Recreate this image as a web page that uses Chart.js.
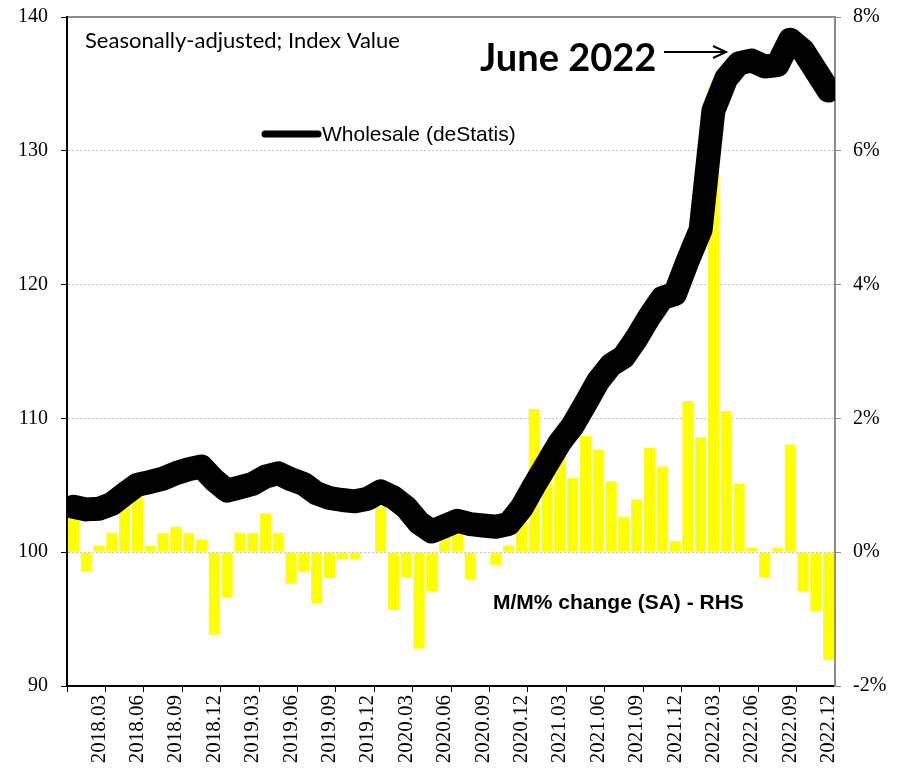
<!DOCTYPE html>
<html>
<head>
<meta charset="utf-8">
<script src="https://cdn.jsdelivr.net/npm/chart.js@4.4.1/dist/chart.umd.min.js"></script>
<style>
html,body{margin:0;padding:0;background:#fff;}
canvas{display:block;}
</style>
</head>
<body>
<canvas id="c" width="900" height="770"></canvas>
<script>
// ---- DATA ----
const months = [
 "2018.01","2018.02","2018.03","2018.04","2018.05","2018.06","2018.07","2018.08","2018.09","2018.10","2018.11","2018.12",
 "2019.01","2019.02","2019.03","2019.04","2019.05","2019.06","2019.07","2019.08","2019.09","2019.10","2019.11","2019.12",
 "2020.01","2020.02","2020.03","2020.04","2020.05","2020.06","2020.07","2020.08","2020.09","2020.10","2020.11","2020.12",
 "2021.01","2021.02","2021.03","2021.04","2021.05","2021.06","2021.07","2021.08","2021.09","2021.10","2021.11","2021.12",
 "2022.01","2022.02","2022.03","2022.04","2022.05","2022.06","2022.07","2022.08","2022.09","2022.10","2022.11","2022.12"
];
const tickMonths = ["2018.03","2018.06","2018.09","2018.12","2019.03","2019.06","2019.09","2019.12","2020.03","2020.06",
 "2020.09","2020.12","2021.03","2021.06","2021.09","2021.12","2022.03","2022.06","2022.09","2022.12"];
const wholesaleIndex = [
 103.4,103.2,103.25,103.6,104.35,105.05,105.25,105.5,105.9,106.2,106.4,105.4,
 104.6,104.85,105.1,105.65,105.9,105.45,105.1,104.4,104.05,103.9,103.8,104.0,
 104.55,104.1,103.35,102.2,101.55,101.95,102.35,102.1,102.0,101.9,102.1,103.3,
 105.0,106.6,108.2,109.45,111.1,112.8,114.0,114.6,116.0,117.6,119.0,119.3,
 121.8,124.1,133.0,135.4,136.55,136.75,136.3,136.4,138.3,137.5,136.0,134.5
];
const momChange = [
 0.60,-0.29,0.10,0.29,0.70,0.83,0.10,0.29,0.38,0.29,0.19,-1.23,
 -0.67,0.29,0.29,0.58,0.29,-0.47,-0.29,-0.76,-0.38,-0.10,-0.10,0.00,
 0.68,-0.86,-0.38,-1.44,-0.58,0.40,0.35,-0.40,0.00,-0.19,0.10,0.55,
 2.14,1.50,1.45,1.11,1.74,1.53,1.06,0.53,0.79,1.56,1.28,0.17,
 2.26,1.72,6.95,2.11,1.03,0.07,-0.37,0.07,1.61,-0.58,-0.88,-1.61
];
const leftTicks = [90,100,110,120,130,140];
const rightTicks = [-2,0,2,4,6,8];

// ---- annotations ----
const annot = {
  id: 'annot',
  afterDraw(chart) {
    const ctx = chart.ctx;
    ctx.save();
    ctx.fillStyle = '#000';
    ctx.strokeStyle = '#000';
    ctx.textBaseline = 'alphabetic';
    ctx.textAlign = 'left';
    ctx.font = '22px Lato';
    ctx.fillText('Seasonally-adjusted; Index Value', 85, 48);
    ctx.font = 'bold 38px Lato';
    ctx.fillText('June 2022', 480, 71);
    ctx.lineWidth = 2;
    ctx.beginPath(); ctx.moveTo(664, 52); ctx.lineTo(725, 52); ctx.stroke();
    ctx.beginPath(); ctx.moveTo(713, 46); ctx.lineTo(726, 52); ctx.lineTo(713, 58); ctx.stroke();
    ctx.lineCap = 'round';
    ctx.lineWidth = 7;
    ctx.beginPath(); ctx.moveTo(265, 134); ctx.lineTo(318, 134); ctx.stroke();
    ctx.font = '21px "Liberation Sans"';
    ctx.fillText('Wholesale (deStatis)', 322, 141);
    ctx.font = 'bold 21px "Liberation Sans"';
    ctx.fillText('M/M% change (SA) - RHS', 493, 609);
    ctx.restore();
  }
};

const serif = '"Liberation Serif", "Times New Roman", serif';

new Chart(document.getElementById('c'), {
  type: 'bar',
  data: {
    labels: months,
    datasets: [
      {
        type: 'line',
        label: 'Wholesale (deStatis)',
        data: wholesaleIndex,
        yAxisID: 'y',
        borderColor: '#000',
        borderWidth: 24,
        pointRadius: 0,
        tension: 0,
        borderJoinStyle: 'round',
        borderCapStyle: 'round',
        clip: 0,
        order: 0
      },
      {
        type: 'bar',
        label: 'M/M% change (SA) - RHS',
        data: momChange,
        yAxisID: 'y2',
        backgroundColor: '#FFFF00',
        borderWidth: 0,
        barPercentage: 0.86,
        categoryPercentage: 1.0,
        order: 1
      }
    ]
  },
  options: {
    responsive: false,
    animation: false,
    devicePixelRatio: 1,
    layout: { padding: 0 },
    plugins: { legend: { display: false }, tooltip: { enabled: false }, title: { display: false } },
    scales: {
      x: {
        type: 'category',
        position: 'bottom',
        offset: true,
        afterFit: s => { s.height = 84; },
        grid: {
          offset: true,
          drawOnChartArea: false,
          drawTicks: true,
          tickLength: 6,
          color: ctx => (ctx.index % 3 === 0 ? '#000' : 'rgba(0,0,0,0)'),
          tickColor: ctx => (ctx.index % 3 === 0 ? '#000' : 'rgba(0,0,0,0)'),
          lineWidth: 1
        },
        border: { display: true, color: '#000', width: 2 },
        ticks: {
          autoSkip: false,
          maxRotation: 90,
          minRotation: 90,
          padding: 3,
          color: '#000',
          font: { family: serif, size: 21 },
          callback: function(v, i) {
            const lab = months[i];
            return tickMonths.includes(lab) ? lab : '';
          }
        }
      },
      xTop: {
        type: 'category',
        position: 'top',
        offset: true,
        afterFit: s => { s.height = 17; },
        grid: { display: false, drawTicks: false },
        border: { display: true, color: '#8c8c8c', width: 2 },
        ticks: { display: false }
      },
      y: {
        position: 'left',
        min: 90,
        max: 140,
        afterFit: s => { s.width = 67; },
        afterBuildTicks: s => { s.ticks = leftTicks.map(v => ({ value: v })); },
        grid: {
          drawOnChartArea: true,
          drawTicks: true,
          tickLength: 6,
          color: ctx => (ctx.tick && ctx.tick.value > 90 && ctx.tick.value < 140 ? '#c4c4c4' : 'rgba(0,0,0,0)'),
          tickColor: '#000',
          lineWidth: 1
        },
        border: { display: true, color: '#000', width: 2, dash: [2, 2] },
        ticks: {
          padding: 13,
          color: '#000',
          font: { family: serif, size: 20, lineHeight: 0.2 },
          callback: v => String(v)
        }
      },
      y2: {
        position: 'right',
        min: -2,
        max: 8,
        afterFit: s => { s.width = 65; },
        afterBuildTicks: s => { s.ticks = rightTicks.map(v => ({ value: v })); },
        grid: {
          drawOnChartArea: false,
          drawTicks: true,
          tickLength: 6,
          color: '#8c8c8c',
          tickColor: '#8c8c8c',
          lineWidth: 1
        },
        border: { display: true, color: '#8c8c8c', width: 2 },
        ticks: {
          padding: 12,
          color: '#000',
          font: { family: serif, size: 20, lineHeight: 0.2 },
          callback: v => v + '%'
        }
      }
    }
  },
  plugins: [annot]
});
</script>
</body>
</html>
